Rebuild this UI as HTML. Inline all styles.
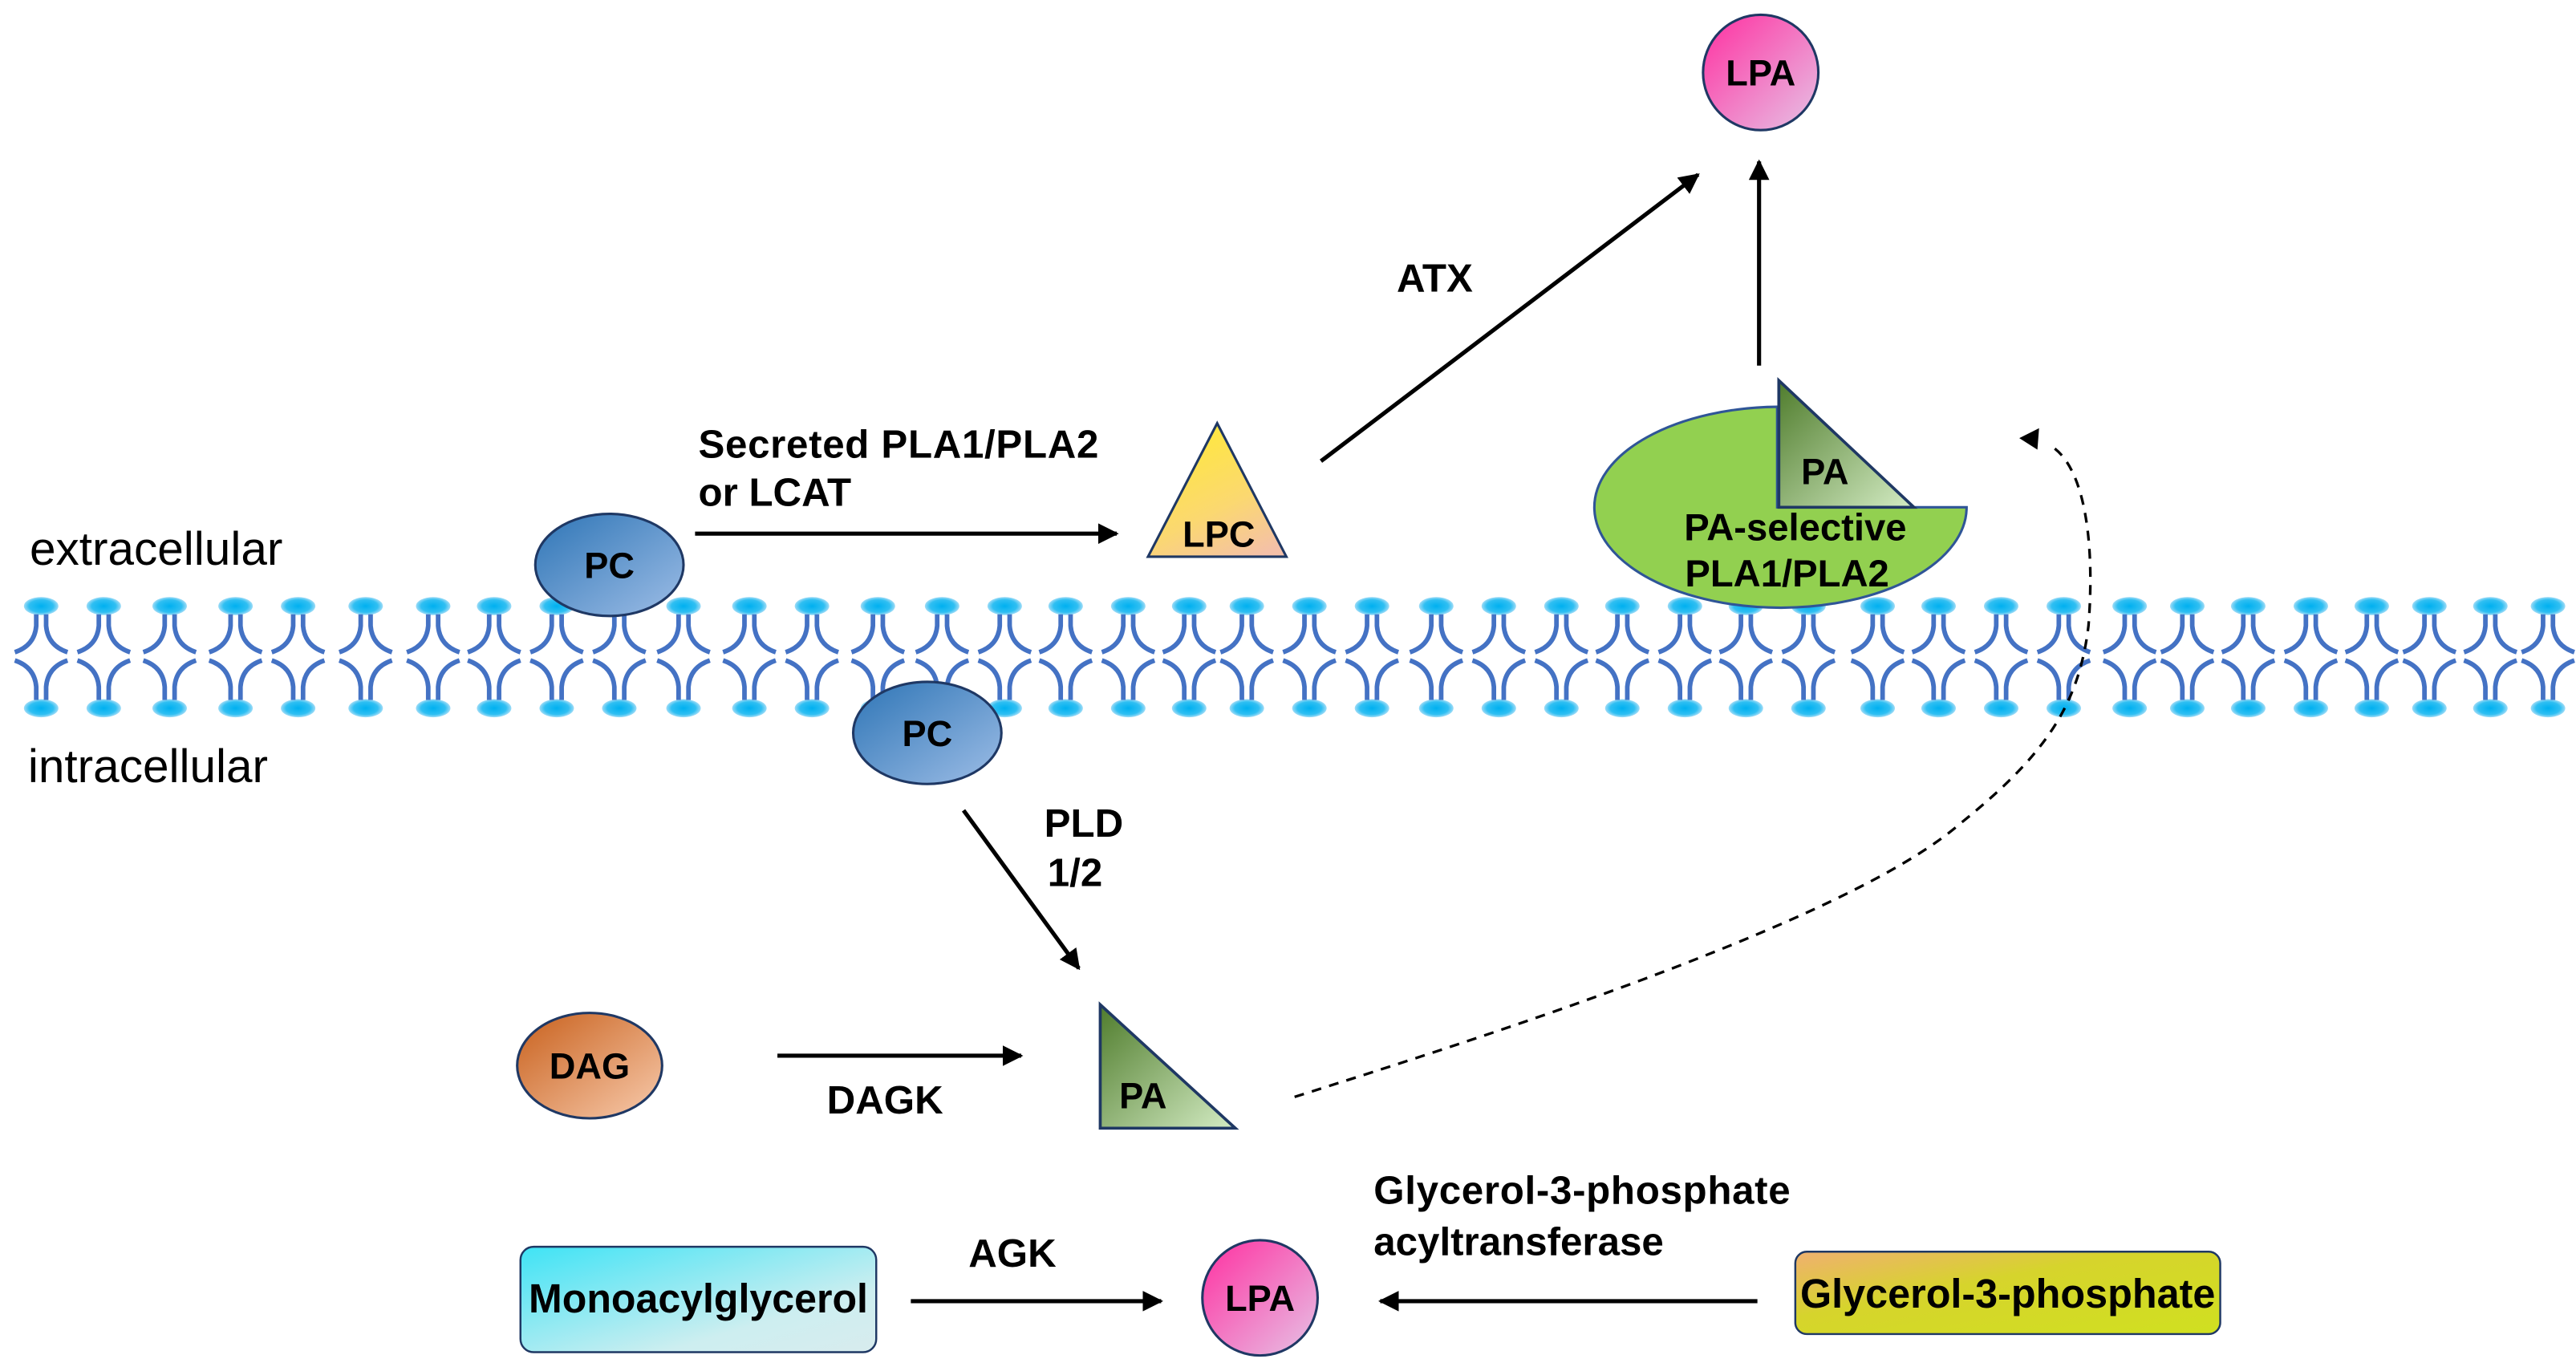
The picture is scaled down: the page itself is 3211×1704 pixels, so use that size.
<!DOCTYPE html>
<html><head><meta charset="utf-8"><style>
html,body{margin:0;padding:0;background:#fff;}
svg{display:block;}
text{font-family:"Liberation Sans",Arial,sans-serif;font-weight:bold;fill:#000;}
</style></head><body>
<svg width="3211" height="1704" viewBox="0 0 1564 830" preserveAspectRatio="none" xmlns="http://www.w3.org/2000/svg">
<defs>
<radialGradient id="head" cx="50%" cy="50%" r="50%"><stop offset="0" stop-color="#00b0f0"/><stop offset="0.7" stop-color="#30bff2"/><stop offset="1" stop-color="#9fdcf7"/></radialGradient>
<g id="lip">
<ellipse cx="0" cy="368" rx="10.5" ry="5.5" fill="url(#head)"/>
<ellipse cx="0" cy="430" rx="10.5" ry="5.5" fill="url(#head)"/>
<path d="M-3,373 V380 Q-4,392 -16,396 M3,373 V380 Q4,392 16,396 M-3,425 V417 Q-4,405 -16,401 M3,425 V417 Q4,405 16,401" fill="none" stroke="#4472c4" stroke-width="2.8"/>
</g>
<linearGradient id="blue" x1="0" y1="0" x2="1" y2="1"><stop offset="0" stop-color="#2e75b6"/><stop offset="1" stop-color="#9dbde6"/></linearGradient>
<linearGradient id="orange" x1="0" y1="0" x2="1" y2="1"><stop offset="0" stop-color="#c8601c"/><stop offset="1" stop-color="#f8cbad"/></linearGradient>
<linearGradient id="pink" x1="0" y1="0" x2="1" y2="1"><stop offset="0" stop-color="#ff2fa0"/><stop offset="1" stop-color="#e6c3e6"/></linearGradient>
<linearGradient id="yel" x1="0.3" y1="0" x2="0.8" y2="1"><stop offset="0" stop-color="#ffe93a"/><stop offset="0.6" stop-color="#fbd870"/><stop offset="1" stop-color="#f4c0a8"/></linearGradient>
<linearGradient id="grn" x1="0" y1="0" x2="1" y2="1"><stop offset="0" stop-color="#4f7c2c"/><stop offset="1" stop-color="#d4ecc4"/></linearGradient>
<linearGradient id="cyan" x1="0" y1="0" x2="1" y2="1"><stop offset="0" stop-color="#3ee3f5"/><stop offset="0.7" stop-color="#cdeef0"/><stop offset="1" stop-color="#d8ecee"/></linearGradient>
<linearGradient id="g3p" x1="0" y1="0" x2="1" y2="1"><stop offset="0" stop-color="#f0b070"/><stop offset="0.4" stop-color="#d6d42c"/><stop offset="1" stop-color="#d0e020"/></linearGradient>
<marker id="ar" viewBox="0 0 10 10" refX="9" refY="5" markerWidth="5" markerHeight="5" orient="auto" markerUnits="strokeWidth"><path d="M0,0 L10,5 L0,10 z" fill="#000"/></marker>
</defs>

<g>
<use href="#lip" x="25"/><use href="#lip" x="63"/><use href="#lip" x="103"/><use href="#lip" x="143"/><use href="#lip" x="181"/><use href="#lip" x="222"/><use href="#lip" x="263"/><use href="#lip" x="300"/><use href="#lip" x="338"/><use href="#lip" x="376"/><use href="#lip" x="415"/><use href="#lip" x="455"/><use href="#lip" x="493"/><use href="#lip" x="533"/><use href="#lip" x="572"/><use href="#lip" x="610"/><use href="#lip" x="647"/><use href="#lip" x="685"/><use href="#lip" x="722"/><use href="#lip" x="757"/><use href="#lip" x="795"/><use href="#lip" x="833"/><use href="#lip" x="872"/><use href="#lip" x="910"/><use href="#lip" x="948"/><use href="#lip" x="985"/><use href="#lip" x="1023"/><use href="#lip" x="1060"/><use href="#lip" x="1098"/><use href="#lip" x="1140"/><use href="#lip" x="1177"/><use href="#lip" x="1215"/><use href="#lip" x="1253"/><use href="#lip" x="1293"/><use href="#lip" x="1328"/><use href="#lip" x="1365"/><use href="#lip" x="1403"/><use href="#lip" x="1440"/><use href="#lip" x="1475"/><use href="#lip" x="1512"/><use href="#lip" x="1547"/>
</g>

<text x="18" y="343" style="font-weight:normal" font-size="28.5">extracellular</text>
<text x="17" y="475" style="font-weight:normal" font-size="28.5">intracellular</text>

<ellipse cx="370" cy="343" rx="45" ry="31" fill="url(#blue)" stroke="#1f3864" stroke-width="1.5"/>
<text x="370" y="351" font-size="22" text-anchor="middle">PC</text>
<ellipse cx="563" cy="445" rx="45" ry="31" fill="url(#blue)" stroke="#1f3864" stroke-width="1.5"/>
<text x="563" y="453" font-size="22" text-anchor="middle">PC</text>

<line x1="422" y1="324" x2="678" y2="324" stroke="#000" stroke-width="2.5" marker-end="url(#ar)"/>
<text x="424" y="278" font-size="24" textLength="243">Secreted PLA1/PLA2</text>
<text x="424" y="307" font-size="24">or LCAT</text>

<polygon points="739,257 697,338 781,338" fill="url(#yel)" stroke="#1f3864" stroke-width="1.5"/>
<text x="740" y="332" font-size="22" text-anchor="middle">LPC</text>

<line x1="802" y1="280" x2="1031" y2="106" stroke="#000" stroke-width="2.5" marker-end="url(#ar)"/>
<text x="848" y="177" font-size="24">ATX</text>

<circle cx="1069" cy="44" r="35" fill="url(#pink)" stroke="#1f3864" stroke-width="1.5"/>
<text x="1069" y="52" font-size="22" text-anchor="middle">LPA</text>
<line x1="1068" y1="222" x2="1068" y2="98" stroke="#000" stroke-width="2.5" marker-end="url(#ar)"/>

<path d="M1079,308 L1079,247 A113,61 0 1 0 1194,308 Z" fill="#92d050" stroke="#2f5597" stroke-width="1.5"/>
<polygon points="1080,231 1080,308 1162,308" fill="url(#grn)" stroke="#1f3864" stroke-width="1.8"/>
<text x="1108" y="294" font-size="22" text-anchor="middle">PA</text>
<text x="1090" y="328" font-size="23" text-anchor="middle">PA-selective</text>
<text x="1085" y="356" font-size="23" text-anchor="middle">PLA1/PLA2</text>

<path d="M786,666 C900,630 1120,560 1189,501 C1240,460 1262,430 1268,380 C1272,330 1266,282 1244,270" fill="none" stroke="#000" stroke-width="1.6" stroke-dasharray="6,5"/>
<polygon points="1226,266 1238,260 1237,273" fill="#000"/>

<line x1="585" y1="492" x2="655" y2="588" stroke="#000" stroke-width="2.5" marker-end="url(#ar)"/>
<text x="634" y="508" font-size="24">PLD</text>
<text x="636" y="538" font-size="24">1/2</text>

<ellipse cx="358" cy="647" rx="44" ry="32" fill="url(#orange)" stroke="#1f3864" stroke-width="1.5"/>
<text x="358" y="655" font-size="22" text-anchor="middle">DAG</text>
<line x1="472" y1="641" x2="620" y2="641" stroke="#000" stroke-width="2.5" marker-end="url(#ar)"/>
<text x="502" y="676" font-size="24">DAGK</text>

<polygon points="668,610 668,685 750,685" fill="url(#grn)" stroke="#1f3864" stroke-width="1.8"/>
<text x="694" y="673" font-size="22" text-anchor="middle">PA</text>

<rect x="316" y="757" width="216" height="64" rx="8" fill="url(#cyan)" stroke="#1f3864" stroke-width="1.2"/>
<text x="424" y="797" font-size="25" text-anchor="middle" textLength="206" lengthAdjust="spacingAndGlyphs">Monoacylglycerol</text>
<line x1="553" y1="790" x2="705" y2="790" stroke="#000" stroke-width="2.5" marker-end="url(#ar)"/>
<text x="588" y="769" font-size="24">AGK</text>

<circle cx="765" cy="788" r="35" fill="url(#pink)" stroke="#1f3864" stroke-width="1.5"/>
<text x="765" y="796" font-size="22" text-anchor="middle">LPA</text>

<line x1="1067" y1="790" x2="838" y2="790" stroke="#000" stroke-width="2.5" marker-end="url(#ar)"/>
<text x="834" y="731" font-size="24" textLength="253">Glycerol-3-phosphate</text>
<text x="834" y="762" font-size="24">acyltransferase</text>

<rect x="1090" y="760" width="258" height="50" rx="7" fill="url(#g3p)" stroke="#1f3864" stroke-width="1.2"/>
<text x="1219" y="794" font-size="25" text-anchor="middle" textLength="252" lengthAdjust="spacingAndGlyphs">Glycerol-3-phosphate</text>
</svg>
</body></html>
